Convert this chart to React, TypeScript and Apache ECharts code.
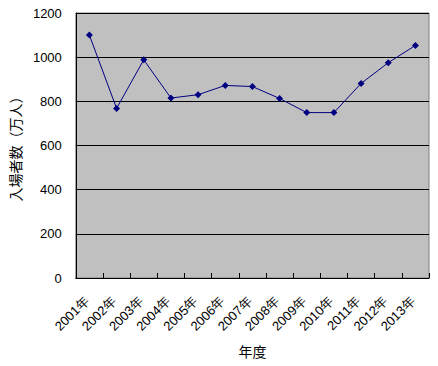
import React, { useEffect, useRef } from "react";
import * as echarts from "echarts";

const categories = ["2001年", "2002年", "2003年", "2004年", "2005年", "2006年", "2007年", "2008年", "2009年", "2010年", "2011年", "2012年", "2013年"];
const attendance = [1100, 768, 988, 815, 830, 872, 867, 813, 749, 749, 881, 975, 1053];
const yTicks = { min: 0, max: 1200, interval: 200 };

export default function App() {
  const ref = useRef<HTMLDivElement>(null);
  useEffect(() => {
    if (!ref.current) return;
    const chart = echarts.init(ref.current, null, { renderer: "svg" });
    const font = "'Liberation Sans', Arial, sans-serif";
    const cjk = "'Noto Sans CJK JP', sans-serif";
    chart.setOption({
      animation: false,
      backgroundColor: "#ffffff",
      textStyle: { fontFamily: font },
      grid: {
        left: 69,
        top: 13,
        width: 360,
        height: 265,
        show: true,
        backgroundColor: "#c0c0c0",
        borderColor: "#808080",
        borderWidth: 1,
      },
      xAxis: {
        type: "category",
        data: categories,
        boundaryGap: true,
        name: "年度",
        nameLocation: "middle",
        nameGap: 66,
        nameTextStyle: { color: "#000", fontSize: 14, fontFamily: cjk },
        axisLine: { show: true, lineStyle: { color: "#000", width: 1 } },
        axisTick: { show: true, inside: true, alignWithLabel: false, length: 5, lineStyle: { color: "#000" } },
        axisLabel: {
          rotate: 45,
          interval: 0,
          margin: 18,
          padding: [0, 4, 0, 0],
          color: "#000",
          fontSize: 13,
          fontFamily: font,
        },
        splitLine: { show: false },
      },
      yAxis: {
        type: "value",
        min: yTicks.min,
        max: yTicks.max,
        interval: yTicks.interval,
        name: "入場者数（万人）",
        nameLocation: "middle",
        nameGap: 50,
        nameRotate: 90,
        nameTextStyle: { color: "#000", fontSize: 14, fontFamily: cjk },
        axisLine: { show: true, lineStyle: { color: "#000", width: 1 } },
        axisTick: { show: false },
        axisLabel: { color: "#000", fontSize: 13, margin: 14, fontFamily: font, formatter: (v: number) => String(v) },
        splitLine: { show: true, lineStyle: { color: "#000", width: 1 } },
      },
      series: [
        {
          type: "line",
          data: attendance,
          symbol: "diamond",
          symbolSize: 7,
          itemStyle: { color: "#000080" },
          lineStyle: { color: "#000080", width: 1 },
        },
      ],
    });
    return () => chart.dispose();
  }, []);
  return <div ref={ref} style={{ position: "fixed", left: 0, top: 0, width: 438, height: 366 }} />;
}
